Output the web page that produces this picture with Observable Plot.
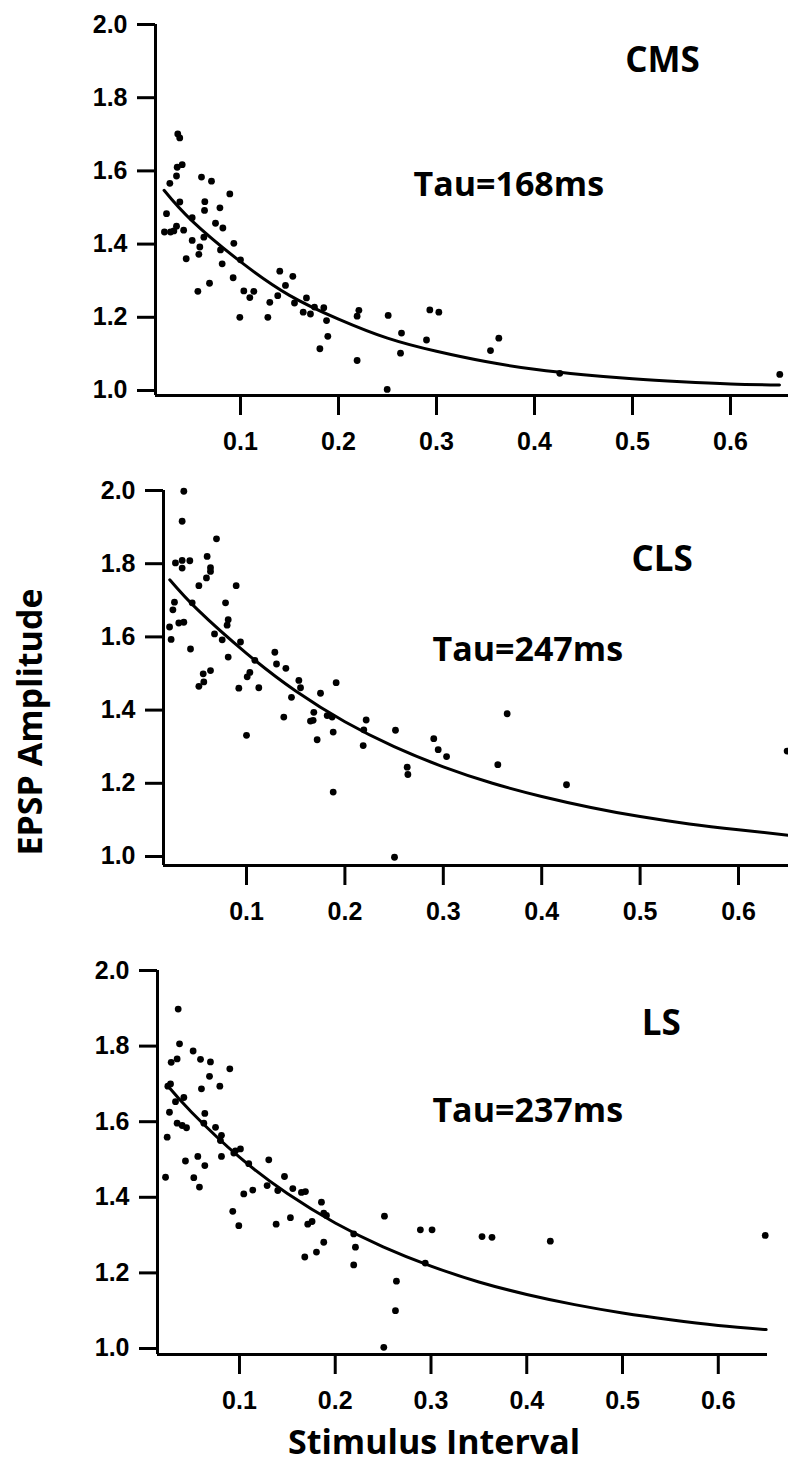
<!DOCTYPE html>
<html>
<head>
<meta charset="utf-8">
<script src="https://cdn.jsdelivr.net/npm/d3@7"></script>
<script src="https://cdn.jsdelivr.net/npm/@observablehq/plot@0.6"></script>
<style>
  html, body { margin: 0; padding: 0; background: #fff; }
  #wrap { position: relative; width: 788px; height: 1464px; overflow: hidden; background: #fff; }
  .panel { position: absolute; left: 0; }
  .title { position: absolute; font-family: "Open Sans", Lato, sans-serif; font-weight: 700; font-size: 34px; color: #000; white-space: nowrap; line-height: 1; }
</style>
</head>
<body>
<div id="wrap"></div>
<script>
// ---------- data ----------
const xTicks = [0.1, 0.2, 0.3, 0.4, 0.5, 0.6];
const yTicks = [1.0, 1.2, 1.4, 1.6, 1.8, 2.0];
const panelNames = ["CMS", "CLS", "LS"];
const tauLabels = ["Tau=168ms", "Tau=247ms", "Tau=237ms"];
const yTitle = "EPSP Amplitude";
const xTitle = "Stimulus Interval";

const cmsX = [0.036,0.038,0.0405,0.0354,0.0347,0.0279,0.0381,0.0245,0.0224,0.0286,0.032,0.0347,0.042,0.0507,0.0507,0.0446,0.0585,0.0575,0.0626,0.0565,0.0684,0.0602,0.0704,0.0636,0.0633,0.079,0.0891,0.0745,0.082,0.0796,0.0813,0.0932,0.0925,0.1,0.0993,0.1034,0.1095,0.1136,0.1279,0.1299,0.138,0.1401,0.1459,0.1534,0.1551,0.1673,0.164,0.1714,0.1755,0.185,0.1878,0.1891,0.181,0.2208,0.219,0.219,0.2507,0.2497,0.2643,0.2633,0.2932,0.3024,0.2898,0.3551,0.3636,0.4258,0.6503];
const cmsY = [1.701,1.690,1.617,1.610,1.586,1.566,1.515,1.483,1.433,1.433,1.436,1.449,1.438,1.472,1.410,1.360,1.392,1.372,1.419,1.271,1.293,1.583,1.572,1.516,1.492,1.499,1.537,1.457,1.444,1.384,1.346,1.402,1.308,1.357,1.200,1.272,1.254,1.271,1.200,1.241,1.259,1.326,1.287,1.312,1.239,1.253,1.214,1.209,1.228,1.226,1.191,1.148,1.114,1.219,1.203,1.082,1.205,1.003,1.157,1.102,1.220,1.214,1.138,1.109,1.143,1.047,1.044];

const clsX = [0.0363,0.0346,0.0346,0.0278,0.0424,0.0346,0.0695,0.0600,0.0634,0.0634,0.0593,0.0516,0.0895,0.0268,0.0252,0.0448,0.0218,0.0234,0.0312,0.0363,0.0431,0.0787,0.0814,0.0803,0.0675,0.0753,0.0939,0.0814,0.0634,0.0560,0.0566,0.0516,0.1085,0.1034,0.1007,0.0922,0.1125,0.1000,0.1288,0.1305,0.1400,0.1532,0.1549,0.1457,0.1379,0.1752,0.1684,0.1650,0.1677,0.1911,0.1820,0.1870,0.1881,0.1718,0.1881,0.2216,0.2192,0.2186,0.2514,0.2633,0.2640,0.2504,0.2903,0.2948,0.3033,0.3649,0.3554,0.4252,0.6494];
const clsY = [1.998,1.916,1.809,1.802,1.808,1.788,1.868,1.820,1.789,1.779,1.761,1.740,1.740,1.695,1.674,1.693,1.627,1.593,1.638,1.640,1.567,1.693,1.647,1.632,1.608,1.592,1.586,1.545,1.508,1.499,1.477,1.465,1.536,1.503,1.491,1.460,1.461,1.331,1.558,1.526,1.514,1.481,1.461,1.435,1.381,1.446,1.394,1.370,1.372,1.475,1.385,1.381,1.340,1.319,1.176,1.373,1.346,1.303,1.345,1.244,1.224,0.998,1.322,1.292,1.273,1.390,1.251,1.196,1.288];

const lsX = [0.036,0.0374,0.0349,0.0287,0.0516,0.0593,0.0697,0.0899,0.0687,0.0280,0.0252,0.0603,0.0795,0.0332,0.0419,0.0269,0.0638,0.0349,0.0402,0.0447,0.0628,0.0750,0.0245,0.0812,0.0801,0.0812,0.0436,0.0565,0.0638,0.0228,0.0523,0.0582,0.0941,0.1010,0.0958,0.1097,0.1306,0.1470,0.1289,0.1400,0.1557,0.1647,0.1689,0.1856,0.1880,0.1908,0.1045,0.1139,0.0930,0.0993,0.1383,0.1532,0.1713,0.1758,0.1682,0.1804,0.1880,0.2193,0.2211,0.2193,0.2514,0.2639,0.2629,0.2507,0.2889,0.3011,0.294,0.3533,0.3637,0.4246,0.649];
const lsY = [1.898,1.806,1.766,1.757,1.787,1.765,1.758,1.740,1.720,1.700,1.694,1.687,1.694,1.653,1.664,1.625,1.622,1.596,1.590,1.584,1.596,1.585,1.559,1.564,1.550,1.508,1.496,1.508,1.484,1.453,1.452,1.427,1.517,1.528,1.523,1.489,1.499,1.455,1.431,1.418,1.423,1.413,1.415,1.387,1.358,1.352,1.409,1.419,1.363,1.325,1.329,1.346,1.329,1.336,1.242,1.255,1.281,1.303,1.268,1.221,1.350,1.178,1.100,1.003,1.314,1.314,1.226,1.296,1.294,1.284,1.299];

// fitted curves
const cmsFitX = [0.022,0.05,0.1,0.15,0.2,0.25,0.3,0.35,0.4,0.45,0.5,0.55,0.6,0.65];
const cmsFitY = [1.547,1.465,1.352,1.260,1.195,1.143,1.107,1.079,1.058,1.043,1.032,1.024,1.018,1.015];
const clsFitX = [0.022,0.05,0.1,0.15,0.2,0.25,0.3,0.35,0.4,0.45,0.5,0.55,0.6,0.651];
const clsFitY = [1.756,1.675,1.555,1.452,1.368,1.300,1.245,1.200,1.164,1.134,1.109,1.089,1.073,1.058];
const lsFitX = [0.025,0.05,0.1,0.15,0.2,0.25,0.3,0.35,0.4,0.45,0.5,0.55,0.6,0.65];
const lsFitY = [1.695,1.625,1.506,1.410,1.332,1.269,1.218,1.176,1.143,1.116,1.094,1.076,1.061,1.050];

// ---------- drawing ----------
const wrap = document.getElementById("wrap");
const zip = (xs, ys) => xs.map((x, i) => ({x, y: ys[i]}));

const panels = [
  {top: 0,   height: 470, mL: 155, mR: 0,  mT: 24, mB: 75, xd: [0.01327, 0.6592], yd: [0.9863, 2.0],
   pts: zip(cmsX, cmsY), fit: zip(cmsFitX, cmsFitY), name: [0.5306, 1.900], tau: [0.2765, 1.561]},
  {top: 470, height: 460, mL: 163, mR: 0,  mT: 20, mB: 65, xd: [0.01565, 0.6508], yd: [0.9754, 2.0],
   pts: zip(clsX, clsY), fit: zip(clsFitX, clsFitY), name: [0.5223, 1.810], tau: [0.289, 1.564]},
  {top: 930, height: 490, mL: 157, mR: 21, mT: 40, mB: 66, xd: [0.0144, 0.6514], yd: [0.9841, 2.0],
   pts: zip(lsX, lsY), fit: zip(lsFitX, lsFitY), name: [0.5405, 1.858], tau: [0.3015, 1.628]}
];

const titleFont = "'Open Sans', Lato, sans-serif";

panels.forEach((p, i) => {
  const chart = Plot.plot({
    width: 788,
    height: p.height,
    marginLeft: p.mL,
    marginRight: p.mR,
    marginTop: p.mT,
    marginBottom: p.mB,
    style: {fontFamily: "'Liberation Sans', Arial, sans-serif", fontSize: "25px", fontWeight: "bold", background: "white", overflow: "visible", color: "black"},
    x: {domain: p.xd, axis: null},
    y: {domain: p.yd, axis: null},
    marks: [
      Plot.axisY(yTicks, {tickSize: 18, tickPadding: 10, tickFormat: d => d.toFixed(1), strokeWidth: 3, fontSize: 25, fontWeight: "bold", label: null}),
      Plot.axisX(xTicks, {tickSize: 20, tickPadding: 17, tickFormat: d => d.toFixed(1), strokeWidth: 3, fontSize: 25, fontWeight: "bold", label: null}),
      Plot.ruleX([p.xd[0]], {y1: p.yd[0], y2: p.yd[1], strokeWidth: 3, stroke: "black"}),
      Plot.ruleY([p.yd[0]], {x1: p.xd[0], x2: p.xd[1], strokeWidth: 3, stroke: "black"}),
      Plot.line(p.fit, {x: "x", y: "y", curve: "natural", stroke: "black", strokeWidth: 3}),
      Plot.dot(p.pts, {x: "x", y: "y", r: 3.4, fill: "black", stroke: "none"}),
      Plot.text([panelNames[i]], {x: p.name[0], y: p.name[1], text: d => d, textAnchor: "middle", lineAnchor: "middle", fontFamily: titleFont, fontWeight: 700, fontSize: 35, fill: "black"}),
      Plot.text([tauLabels[i]], {x: p.tau[0], y: p.tau[1], text: d => d, textAnchor: "start", lineAnchor: "middle", fontFamily: titleFont, fontWeight: 700, fontSize: 34, fill: "black"})
    ]
  });
  chart.classList.add("panel");
  chart.style.top = p.top + "px";
  wrap.appendChild(chart);
});

const yt = document.createElement("div");
yt.className = "title";
yt.textContent = yTitle;
yt.style.left = "29px";
yt.style.top = "722px";
yt.style.transform = "translate(-50%, -50%) rotate(-90deg)";
wrap.appendChild(yt);

const xt = document.createElement("div");
xt.className = "title";
xt.textContent = xTitle;
xt.style.left = "434px";
xt.style.top = "1441px";
xt.style.transform = "translate(-50%, -50%)";
wrap.appendChild(xt);
</script>
</body>
</html>
